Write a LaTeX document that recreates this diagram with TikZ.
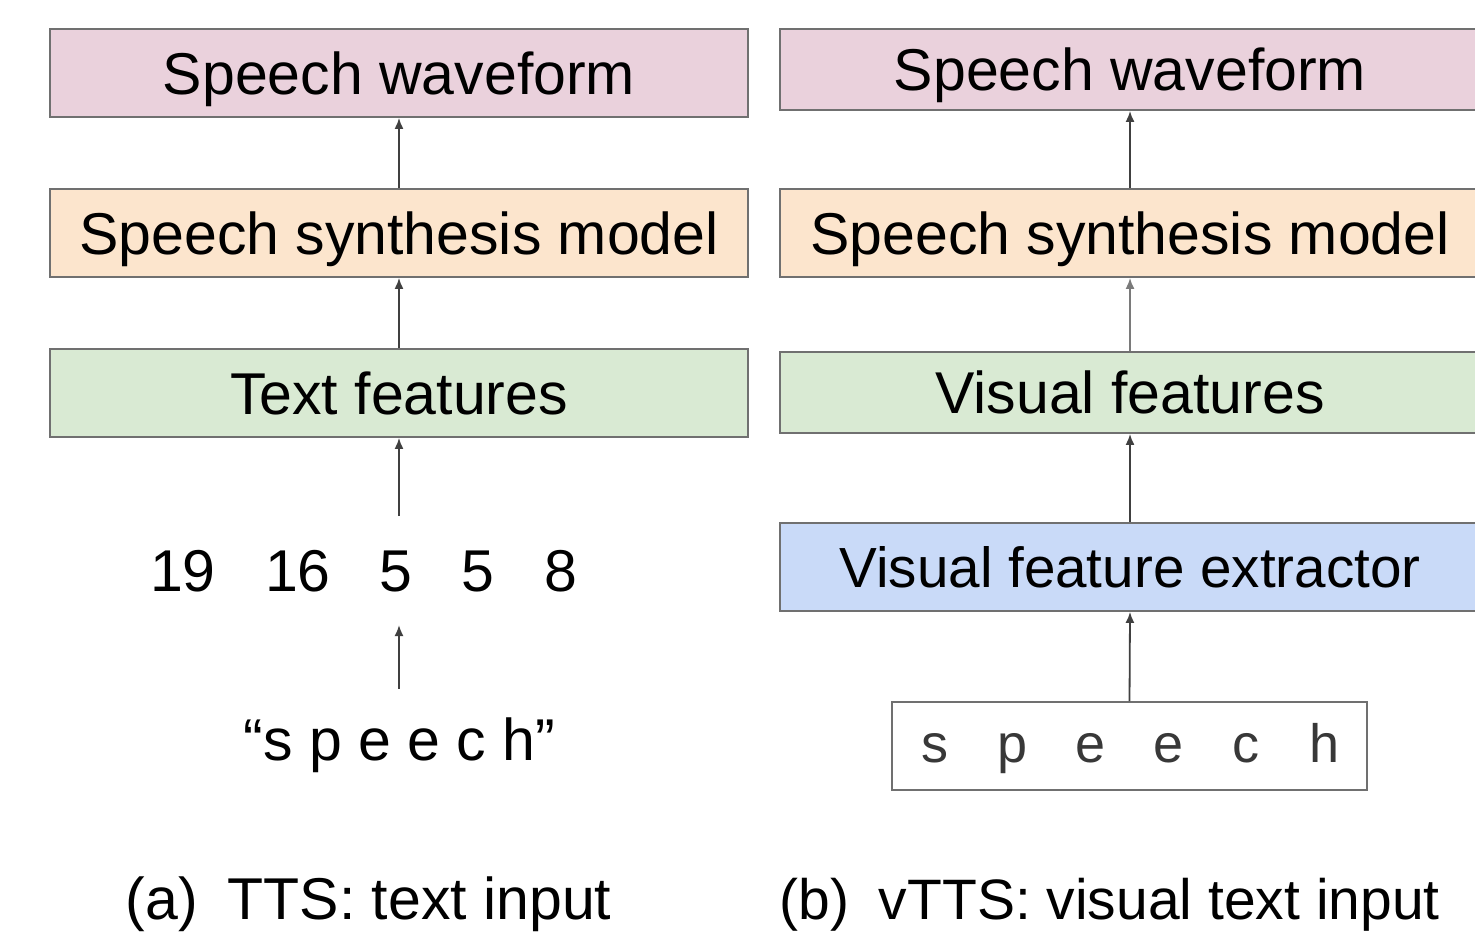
\documentclass[tikz,border=0pt]{standalone}
\usepackage{fontspec}
\setmainfont{Liberation Sans}
\usetikzlibrary{arrows.meta}
\definecolor{pinkf}{HTML}{EAD1DC}
\definecolor{orangef}{HTML}{FCE5CD}
\definecolor{greenf}{HTML}{D9EAD3}
\definecolor{bluef}{HTML}{C9DAF8}
\definecolor{boxline}{HTML}{707070}
\definecolor{arrowdark}{HTML}{404040}
\definecolor{arrowlight}{HTML}{7A7A7A}
\definecolor{glyphgray}{HTML}{383838}
\begin{document}
\begin{tikzpicture}[x=0.5pt,y=-0.5pt,
  bigfont/.style={font=\fontsize{29.5}{35}\selectfont},
  capfont/.style={font=\fontsize{28.5}{34}\selectfont},
  box/.style={draw=boxline, line width=0.9pt, inner sep=0pt, bigfont,
    text height=21.1pt, text depth=0pt},
  lbox/.style={box, minimum width=349pt},
  rbox/.style={box, minimum width=350pt},
  plain/.style={inner xsep=0pt, text height=21.1pt, text depth=0pt},
  arr/.style={-{Latex[length=5.5pt,width=4.5pt]}, line width=0.9pt, draw=arrowdark},
  arrlight/.style={arr, draw=arrowlight}]
\clip (0,0) rectangle (1475,936);
\fill[white] (0,0) rectangle (1475,936);

% (a) TTS column
\node[lbox, fill=pinkf,   minimum height=44pt] (lw) at (399,73)  {Speech waveform};
\node[lbox, fill=orangef, minimum height=44pt] (ls) at (399,233) {Speech synthesis model};
\node[lbox, fill=greenf,  minimum height=44pt] (lt) at (399,393) {Text features};
\node[plain, bigfont, inner ysep=16.5pt] (nums) at (372,570.5)
  {\makebox[0pt]{19}\hspace{57.5pt}\makebox[0pt]{16}\hspace{48.75pt}\makebox[0pt]{5}\hspace{41pt}\makebox[0pt]{5}\hspace{41.75pt}\makebox[0pt]{8}};
\node[plain, bigfont, inner ysep=14.5pt] (sp) at (399.5,739) {“s p e e c h”};

\draw[arr] (ls.north) -- (lw.south);
\draw[arr] (lt.north) -- (ls.south);
\draw[arr] (nums.north -| lt.south) -- (lt.south);
\draw[arr] (sp.north -| lt.south) -- (nums.south -| lt.south);

% (b) vTTS column
\node[rbox, fill=pinkf,   minimum height=40.5pt] (rw) at (1130,69.5)  {Speech waveform};
\node[rbox, fill=orangef, minimum height=44pt]   (rs) at (1130,233)   {Speech synthesis model};
\node[rbox, fill=greenf,  minimum height=40.5pt] (rv) at (1130,392.5) {Visual features};
\node[rbox, fill=bluef,   minimum height=44pt, font=\fontsize{28.3}{34}\selectfont,
  text height=20.2pt] (re) at (1130,567) {Visual feature extractor};
\node[draw=boxline, line width=0.8pt, fill=white, inner sep=0pt,
  minimum width=237.5pt, minimum height=44pt, text height=16pt, text depth=0pt,
  text=glyphgray, font=\fontsize{27}{32}\selectfont] (img) at (1129.5,746)
  {\makebox[39pt]{s}\makebox[39pt]{p}\makebox[39pt]{e}\makebox[39pt]{e}\makebox[39pt]{c}\makebox[39pt]{h}};

\draw[arr] (rs.north) -- (rw.south);
\draw[arrlight] (rv.north) -- (rs.south);
\draw[arr] (re.north) -- (rv.south);
\draw[arr] (img.north) -- (re.south);

% captions
\node[plain, font=\fontsize{29.5}{35}\selectfont] (capa) at (368.5,898.5) {(a)\hspace{15pt}TTS: text input};
\node[plain, capfont] (capb) at (1109.5,898.5) {(b)\hspace{15pt}vTTS: visual text input};
\end{tikzpicture}
\end{document}
